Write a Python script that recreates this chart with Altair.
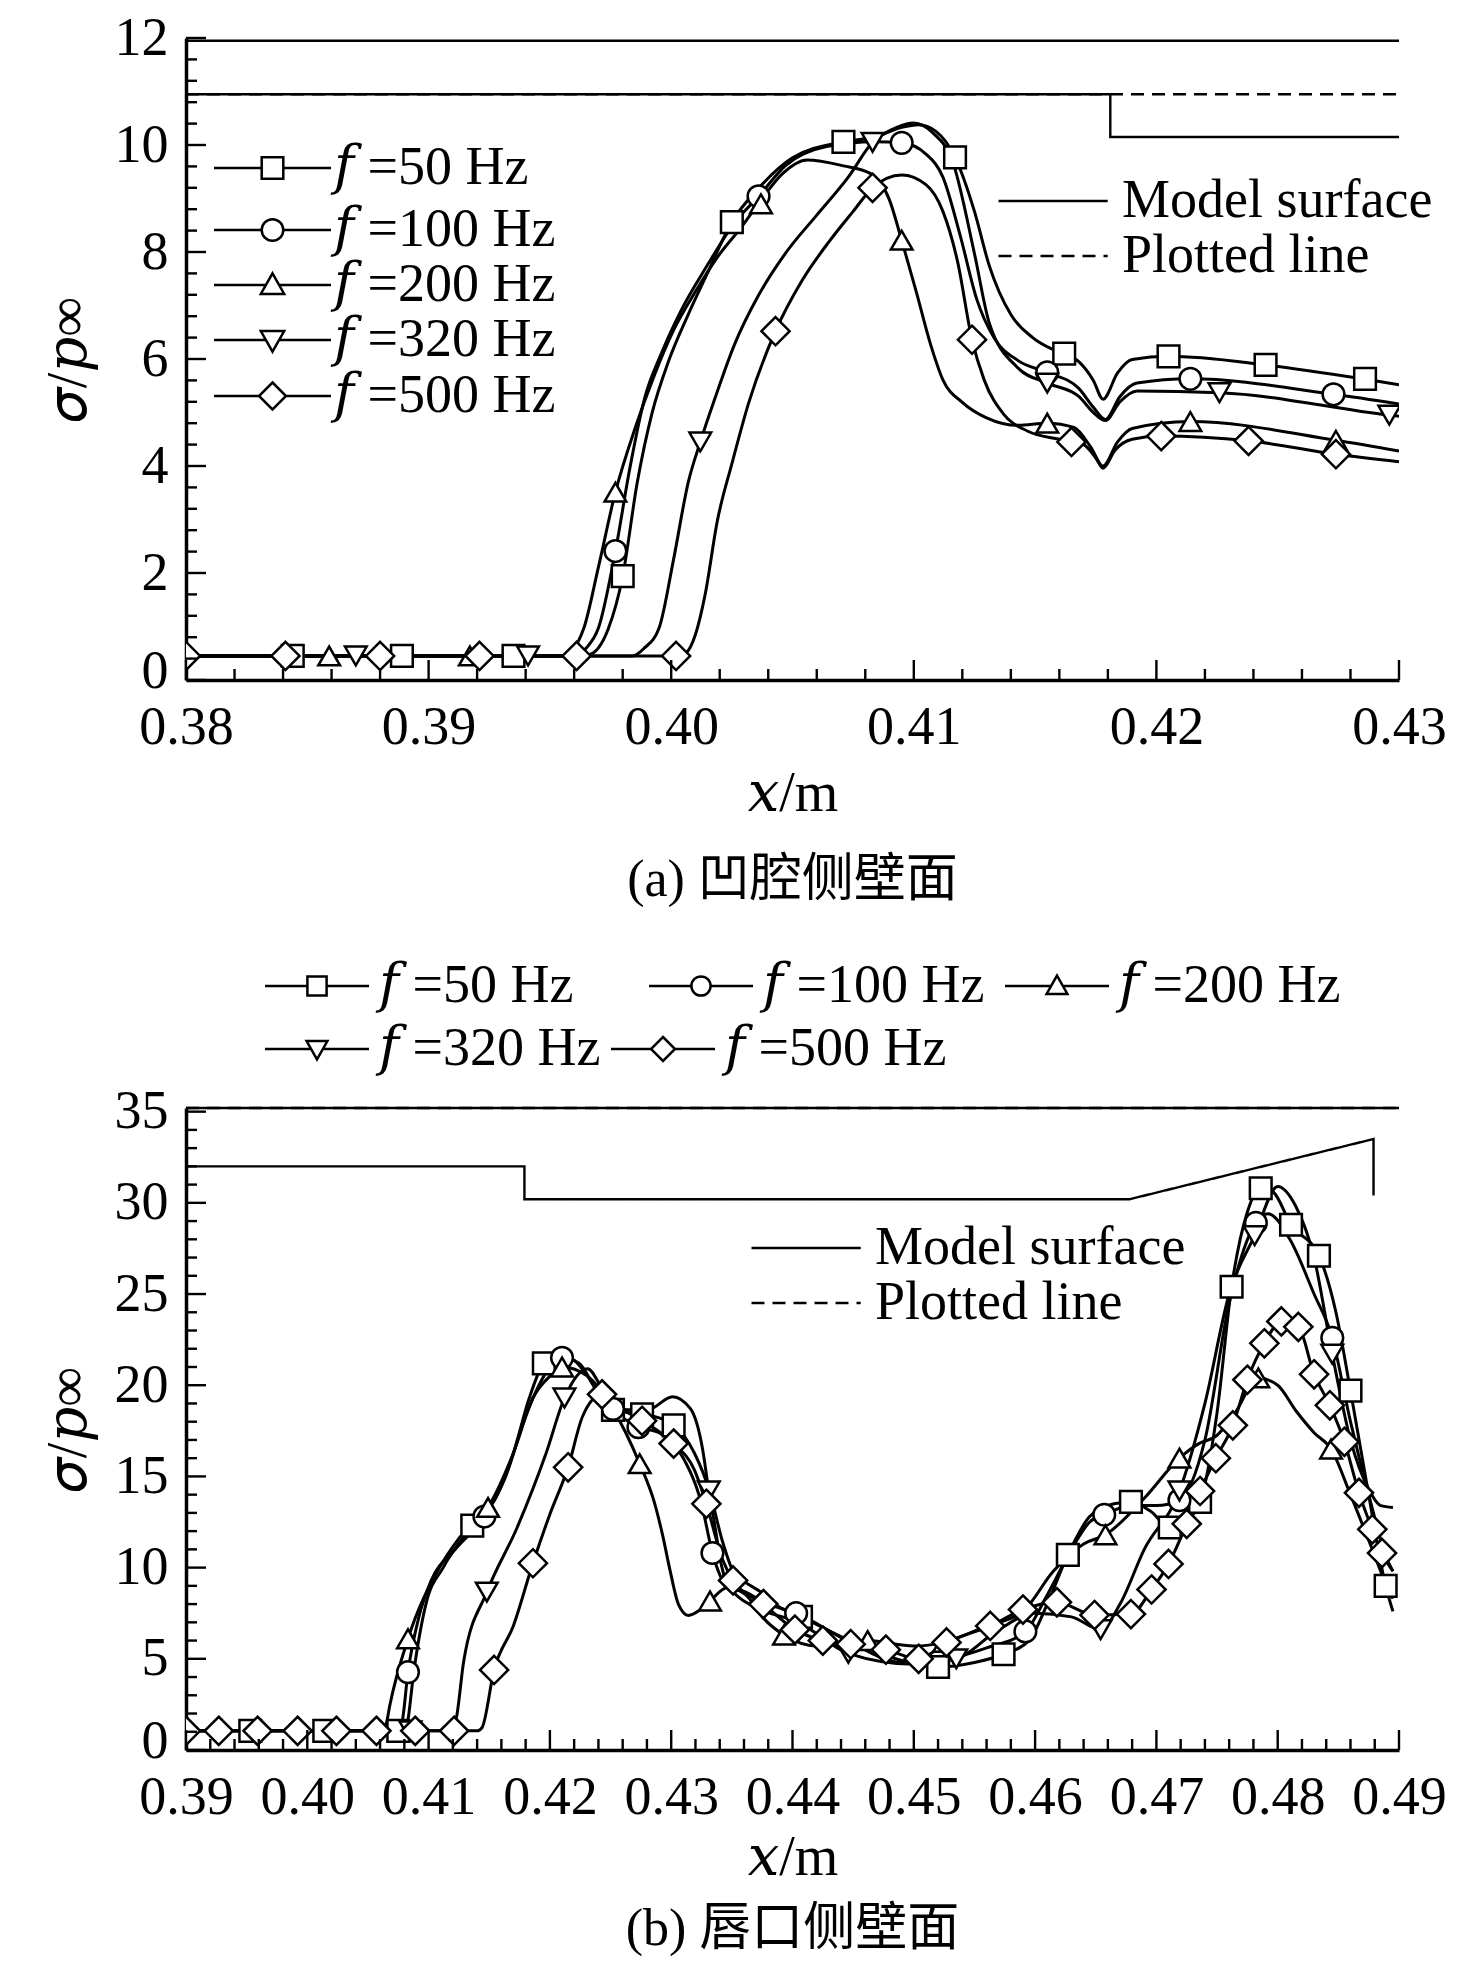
import altair as alt
import pandas as pd

FONT = "Liberation Serif, DejaVu Serif"
CJK = "Liberation Serif, Noto Sans CJK SC"

SER = ["𝑓 =50 Hz", "𝑓 =100 Hz", "𝑓 =200 Hz", "𝑓 =320 Hz", "𝑓 =500 Hz"]
SHAPES = ["square", "circle", "triangle-up", "triangle-down", "M0,-1.3L1.3,0L0,1.3L-1.3,0Z"]
# legend symbols: a line with the marker of each series in its middle
LEG_PATHS = [
    "M-1,0H4.3M6.7,0H12M4.3,-1.2H6.7V1.2H4.3Z",
    "M-1,0H4.3M6.7,0H12M6.7,0A1.2,1.2,0,1,1,4.3,0A1.2,1.2,0,1,1,6.7,0Z",
    "M-1,0H4.77M6.23,0H12M5.5,-1.3L6.8,1.0H4.2Z",
    "M-1,0H4.77M6.23,0H12M5.5,1.3L6.8,-1.0H4.2Z",
    "M-1,0H4.0M7.0,0H12M5.5,-1.5L7.0,0L5.5,1.5L4.0,0Z",
]
KINDS = ["Model surface", "Plotted line"]

# ---------------- panel (a) curves ----------------
a50_x = [0.380, 0.3962, 0.3966, 0.3970, 0.3974, 0.3980, 0.3986, 0.3992, 0.3999, 0.4007, 0.4015, 0.4025, 0.4036, 0.4050, 0.4071, 0.4084, 0.4095, 0.4102, 0.4109, 0.4117, 0.4125, 0.4131, 0.4140, 0.4149, 0.4160, 0.4168, 0.4174, 0.4178, 0.4184, 0.4190, 0.4205, 0.4245, 0.4285, 0.4300]
a50_y = [0.45, 0.45, 0.47, 0.6, 0.95, 1.94, 3.69, 4.97, 5.97, 6.83, 7.61, 8.56, 9.19, 9.76, 10.06, 10.15, 10.33, 10.38, 10.26, 9.77, 8.76, 7.76, 6.83, 6.40, 6.12, 5.95, 5.6, 5.25, 5.74, 5.99, 6.05, 5.89, 5.63, 5.52]
a100_x = [0.380, 0.3957, 0.3961, 0.3965, 0.3970, 0.3977, 0.3983, 0.3989, 0.3996, 0.4004, 0.4015, 0.4026, 0.4036, 0.4047, 0.4064, 0.4084, 0.4095, 0.4105, 0.4112, 0.4119, 0.4126, 0.4133, 0.4143, 0.4155, 0.4168, 0.4174, 0.4179, 0.4185, 0.4192, 0.4214, 0.4273, 0.4300]
a100_y = [0.45, 0.45, 0.47, 0.6, 0.97, 2.41, 3.97, 5.26, 6.11, 6.9, 7.76, 8.54, 9.04, 9.61, 9.97, 10.06, 10.04, 9.83, 9.4, 8.33, 7.11, 6.4, 5.97, 5.75, 5.45, 5.1, 4.87, 5.3, 5.55, 5.63, 5.34, 5.16]
a200_x = [0.380, 0.3954, 0.3959, 0.3964, 0.3970, 0.3977, 0.3985, 0.3993, 0.4001, 0.4010, 0.4019, 0.4029, 0.4037, 0.4046, 0.4056, 0.4071, 0.4082, 0.4090, 0.4095, 0.4101, 0.4107, 0.4112, 0.4120, 0.4130, 0.4143, 0.4155, 0.4166, 0.4173, 0.4178, 0.4184, 0.4190, 0.4214, 0.4274, 0.4300]
a200_y = [0.45, 0.45, 0.55, 0.97, 2.11, 3.51, 4.69, 5.69, 6.54, 7.26, 7.9, 8.47, 8.97, 9.47, 9.72, 9.61, 9.47, 8.97, 8.22, 7.26, 6.26, 5.61, 5.19, 4.9, 4.76, 4.8, 4.72, 4.35, 4.0, 4.45, 4.7, 4.83, 4.48, 4.28]
a320_x = [0.380, 0.3984, 0.3989, 0.3995, 0.4001, 0.4007, 0.4012, 0.4018, 0.4026, 0.4036, 0.4047, 0.4060, 0.4073, 0.4083, 0.4093, 0.4100, 0.4108, 0.4116, 0.4125, 0.4131, 0.4143, 0.4155, 0.4168, 0.4174, 0.4179, 0.4185, 0.4192, 0.4226, 0.4296, 0.4300]
a320_y = [0.45, 0.45, 0.6, 0.97, 2.26, 3.69, 4.45, 5.26, 6.26, 7.19, 7.97, 8.69, 9.4, 10.05, 10.33, 10.41, 10.22, 9.69, 7.97, 6.69, 5.83, 5.55, 5.3, 5.0, 4.85, 5.2, 5.4, 5.37, 4.95, 4.93]
a500_x = [0.380, 0.4003, 0.4006, 0.4010, 0.4014, 0.4019, 0.4025, 0.4032, 0.4043, 0.4054, 0.4065, 0.4075, 0.4083, 0.4095, 0.4105, 0.4112, 0.4118, 0.4124, 0.4129, 0.4137, 0.4147, 0.4160, 0.4170, 0.4175, 0.4178, 0.4183, 0.4190, 0.4202, 0.4238, 0.4274, 0.4300]
a500_y = [0.45, 0.45, 0.5, 0.85, 1.6, 2.97, 4.04, 5.19, 6.52, 7.47, 8.19, 8.76, 9.2, 9.44, 9.26, 8.76, 7.83, 6.36, 5.61, 4.97, 4.65, 4.5, 4.4, 4.15, 3.96, 4.3, 4.5, 4.56, 4.47, 4.22, 4.08]

# panel (a) markers
am50_x = [0.3844, 0.3889, 0.3935, 0.3980, 0.4025, 0.4071, 0.4117, 0.4162, 0.4205, 0.4245, 0.4286]
am50_y = [0.45, 0.45, 0.45, 1.94, 8.56, 10.06, 9.77, 6.10, 6.05, 5.89, 5.63]
am100_x = [0.3977, 0.4036, 0.4095, 0.4155, 0.4214, 0.4273]
am100_y = [2.41, 9.04, 10.04, 5.75, 5.63, 5.34]
am200_x = [0.3859, 0.3917, 0.3977, 0.4037, 0.4095, 0.4155, 0.4214, 0.4274]
am200_y = [0.45, 0.45, 3.51, 8.9, 8.22, 4.8, 4.83, 4.48]
am320_x = [0.3870, 0.3941, 0.4012, 0.4083, 0.4155, 0.4226, 0.4296]
am320_y = [0.45, 0.45, 4.45, 10.05, 5.55, 5.37, 4.95]
am500_x = [0.3800, 0.3841, 0.3880, 0.3921, 0.3961, 0.4002, 0.4043, 0.4083, 0.4124, 0.4165, 0.4202, 0.4238, 0.4274]
am500_y = [0.45, 0.45, 0.45, 0.45, 0.45, 0.45, 6.52, 9.2, 6.36, 4.45, 4.56, 4.47, 4.22]

# panel (a) model surface / plotted line
as_seg = ["s1", "s1", "s2", "s2", "s2", "s2", "p1", "p1"]
as_kind = ["Model surface", "Model surface", "Model surface", "Model surface", "Model surface", "Model surface", "Plotted line", "Plotted line"]
as_x = [0.380, 0.430, 0.380, 0.4181, 0.4181, 0.430, 0.380, 0.430]
as_y = [11.95, 11.95, 10.95, 10.95, 10.15, 10.15, 10.95, 10.95]

# ---------------- panel (b) curves ----------------
b50_x = [0.390, 0.4080, 0.4082, 0.4088, 0.4098, 0.4112, 0.4136, 0.4156, 0.4170, 0.4183, 0.4195, 0.4207, 0.4217, 0.4231, 0.4249, 0.4264, 0.4278, 0.4302, 0.4319, 0.4332, 0.4342, 0.4351, 0.4359, 0.4373, 0.4390, 0.4407, 0.4450, 0.4485, 0.4520, 0.4550, 0.4574, 0.4595, 0.4610, 0.4627, 0.4645, 0.4665, 0.4679, 0.4695, 0.4711, 0.4725, 0.4736, 0.4750, 0.4762, 0.4775, 0.4786, 0.4796, 0.4811, 0.4834, 0.4848, 0.4860, 0.4875, 0.4889, 0.4895]
b50_y = [1.05, 1.05, 1.3, 4.4, 8.05, 10.0, 12.3, 13.9, 16.3, 19.3, 21.2, 21.6, 21.5, 20.5, 18.7, 18.5, 18.4, 17.8, 16.3, 14.1, 11.5, 9.8, 9.3, 8.7, 7.8, 7.3, 5.9, 5.0, 4.55, 4.8, 5.25, 6.0, 8.0, 10.7, 12.8, 13.5, 13.6, 13.1, 12.2, 12.6, 13.6, 18.5, 25.4, 29.5, 30.8, 30.6, 28.8, 27.1, 24.0, 19.7, 14.0, 9.0, 7.6]
b100_x = [0.390, 0.4074, 0.4078, 0.4083, 0.4092, 0.4102, 0.4122, 0.4146, 0.4163, 0.4180, 0.4197, 0.4210, 0.4224, 0.4237, 0.4252, 0.4273, 0.4290, 0.4310, 0.4325, 0.4334, 0.4346, 0.4360, 0.4380, 0.4403, 0.4445, 0.4490, 0.4520, 0.4560, 0.4592, 0.4610, 0.4630, 0.4645, 0.4657, 0.4680, 0.4700, 0.4719, 0.4740, 0.4760, 0.4782, 0.4792, 0.4810, 0.4830, 0.4845, 0.4860, 0.4875, 0.4890, 0.4895]
b100_y = [1.05, 1.05, 1.5, 4.27, 7.3, 9.27, 11.0, 12.8, 14.9, 18.3, 20.7, 21.5, 21.2, 19.9, 18.7, 17.7, 17.4, 16.0, 13.5, 10.8, 9.0, 8.7, 8.0, 7.5, 6.0, 4.8, 4.9, 5.6, 6.5, 8.5, 11.0, 12.5, 12.9, 13.4, 13.4, 13.7, 17.0, 24.5, 28.9, 29.4, 28.0, 25.0, 22.6, 18.0, 14.0, 10.5, 9.8]
b200_x = [0.390, 0.4062, 0.4065, 0.4068, 0.4083, 0.4109, 0.4125, 0.4149, 0.4170, 0.4186, 0.4200, 0.4210, 0.4231, 0.4251, 0.4274, 0.4286, 0.4293, 0.4299, 0.4306, 0.4314, 0.4324, 0.4332, 0.4346, 0.4361, 0.4376, 0.4393, 0.4420, 0.4462, 0.4500, 0.4525, 0.4560, 0.4590, 0.4615, 0.4640, 0.4658, 0.4690, 0.4719, 0.4735, 0.4749, 0.4765, 0.4784, 0.4800, 0.4815, 0.4830, 0.4844, 0.4860, 0.4875, 0.4890, 0.4895]
b200_y = [1.05, 1.05, 1.4, 2.44, 6.1, 10.0, 11.6, 13.3, 16.3, 19.3, 20.5, 21.0, 20.5, 18.8, 15.7, 13.6, 11.75, 9.86, 7.98, 7.38, 7.7, 8.17, 8.9, 8.54, 7.23, 6.3, 5.7, 6.0, 5.7, 5.9, 6.8, 7.6, 9.8, 11.3, 11.8, 13.8, 16.0, 16.8, 17.2, 18.5, 20.4, 20.0, 18.6, 17.4, 16.5, 14.0, 11.5, 9.0, 8.3]
b320_x = [0.390, 0.4119, 0.4123, 0.4129, 0.4148, 0.4173, 0.4197, 0.4212, 0.4231, 0.4244, 0.4264, 0.4281, 0.4301, 0.4316, 0.4326, 0.4331, 0.4336, 0.4341, 0.4346, 0.4353, 0.4370, 0.4405, 0.4446, 0.4500, 0.4535, 0.4570, 0.4600, 0.4630, 0.4654, 0.4670, 0.4690, 0.4719, 0.4740, 0.4760, 0.4781, 0.4800, 0.4815, 0.4830, 0.4845, 0.4860, 0.4875, 0.4885, 0.4895]
b320_y = [1.05, 1.05, 1.8, 4.9, 8.66, 12.2, 16.3, 19.3, 20.9, 19.75, 18.66, 18.66, 19.37, 18.7, 16.45, 14.2, 12.3, 10.24, 9.11, 8.54, 7.8, 7.0, 5.3, 4.7, 5.0, 6.6, 7.5, 7.3, 6.6, 8.0, 11.0, 14.2, 19.0, 25.0, 28.2, 30.9, 29.8, 27.0, 21.7, 17.0, 14.3, 13.4, 13.3]
b500_x = [0.390, 0.4140, 0.4144, 0.4154, 0.4170, 0.4186, 0.4200, 0.4215, 0.4227, 0.4243, 0.4264, 0.4276, 0.4302, 0.4319, 0.4329, 0.4342, 0.4351, 0.4376, 0.4402, 0.4425, 0.4448, 0.4477, 0.4504, 0.4527, 0.4563, 0.4590, 0.4618, 0.4649, 0.4679, 0.4696, 0.4710, 0.4725, 0.4736, 0.4749, 0.4763, 0.4775, 0.4789, 0.4803, 0.4817, 0.4830, 0.4843, 0.4855, 0.4867, 0.4878, 0.4886, 0.4895]
b500_y = [1.05, 1.05, 1.22, 4.39, 6.83, 10.24, 12.93, 15.5, 18.3, 19.5, 18.5, 18.05, 16.8, 15.37, 13.5, 10.5, 9.3, 8.0, 6.6, 6.0, 5.8, 5.5, 5.0, 5.9, 6.8, 7.7, 8.1, 7.4, 7.45, 8.8, 10.2, 12.4, 14.2, 16.0, 17.8, 20.3, 22.3, 23.5, 23.2, 20.6, 18.9, 16.9, 14.1, 12.1, 10.8, 9.8]

# panel (b) markers
bm50_x = [0.3953, 0.4014, 0.4075, 0.4136, 0.4195, 0.4252, 0.4276, 0.4302, 0.4407, 0.4520, 0.4574, 0.4627, 0.4679, 0.4711, 0.4736, 0.4762, 0.4786, 0.4811, 0.4834, 0.4860, 0.4889]
bm50_y = [1.05, 1.05, 1.05, 12.3, 21.2, 18.65, 18.4, 17.8, 7.3, 4.55, 5.25, 10.7, 13.6, 12.2, 13.6, 25.4, 30.8, 28.8, 27.1, 19.7, 9.0]
bm100_x = [0.4083, 0.4146, 0.4210, 0.4252, 0.4273, 0.4334, 0.4403, 0.4592, 0.4657, 0.4719, 0.4782, 0.4845]
bm100_y = [4.27, 12.8, 21.5, 18.7, 17.7, 10.8, 7.5, 6.5, 12.9, 13.7, 28.9, 22.6]
bm200_x = [0.4083, 0.4149, 0.4210, 0.4274, 0.4332, 0.4393, 0.4462, 0.4525, 0.4658, 0.4719, 0.4784, 0.4844]
bm200_y = [6.1, 13.3, 21.0, 15.7, 8.17, 6.3, 6.0, 5.9, 11.8, 16.0, 20.4, 16.5]
bm320_x = [0.4085, 0.4148, 0.4212, 0.4331, 0.4446, 0.4535, 0.4654, 0.4719, 0.4781, 0.4845]
bm320_y = [1.05, 8.66, 19.3, 14.2, 5.3, 5.0, 6.6, 14.2, 28.2, 21.7]
bm500_x = [0.3900, 0.3927, 0.3959, 0.3992, 0.4024, 0.4057, 0.4089, 0.4121, 0.4154, 0.4186, 0.4215, 0.4243, 0.4276, 0.4302, 0.4329, 0.4351, 0.4376, 0.4402, 0.4425, 0.4448, 0.4477, 0.4504, 0.4527, 0.4563, 0.4590, 0.4618, 0.4649, 0.4679, 0.4696, 0.4710, 0.4725, 0.4736, 0.4749, 0.4763, 0.4775, 0.4789, 0.4803, 0.4817, 0.4830, 0.4843, 0.4855, 0.4867, 0.4878, 0.4886]
bm500_y = [1.05, 1.05, 1.05, 1.05, 1.05, 1.05, 1.05, 1.05, 4.39, 10.24, 15.5, 19.5, 18.05, 16.8, 13.5, 9.3, 8.0, 6.6, 6.0, 5.8, 5.5, 5.0, 5.9, 6.8, 7.7, 8.1, 7.4, 7.45, 8.8, 10.2, 12.4, 14.2, 16.0, 17.8, 20.3, 22.3, 23.5, 23.2, 20.6, 18.9, 16.9, 14.1, 12.1, 10.8]

# panel (b) model surface / plotted line
bs_seg = ["s1", "s1", "s2", "s2", "s2", "s2", "s2", "s2", "s2", "p1", "p1"]
bs_kind = ["Model surface"] * 9 + ["Plotted line"] * 2
bs_x = [0.390, 0.490, 0.390, 0.4179, 0.4179, 0.4678, 0.4879, 0.4879, 0.4879, 0.390, 0.490]
bs_y = [35.2, 35.2, 32.0, 32.0, 30.2, 30.2, 33.5, 33.5, 30.4, 35.2, 35.2]

# tick values
a_xmaj = [0.38, 0.39, 0.40, 0.41, 0.42, 0.43]
a_xmin = [0.382, 0.384, 0.386, 0.388, 0.392, 0.394, 0.396, 0.398, 0.402, 0.404, 0.406, 0.408,
          0.412, 0.414, 0.416, 0.418, 0.422, 0.424, 0.426, 0.428]
a_ymaj = [0, 2, 4, 6, 8, 10, 12]
a_ymin = [0.4, 0.8, 1.2, 1.6, 2.4, 2.8, 3.2, 3.6, 4.4, 4.8, 5.2, 5.6, 6.4, 6.8, 7.2, 7.6,
          8.4, 8.8, 9.2, 9.6, 10.4, 10.8, 11.2, 11.6]
b_xmaj = [0.39, 0.40, 0.41, 0.42, 0.43, 0.44, 0.45, 0.46, 0.47, 0.48, 0.49]
b_xmin = [round(0.39 + 0.002 * i, 3) for i in range(51) if i % 5 != 0]
b_ymaj = [0, 5, 10, 15, 20, 25, 30, 35]
b_ymin = [i for i in range(1, 35) if i % 5 != 0]

# legend entry placement (pixels from the plot's top-left corner)
A_LEG_POS = [(10, 103), (10, 165), (10, 220), (10, 275), (10, 331)]
B_LEG_POS = [(60, -149), (444, -149), (800, -149), (60, -86), (406, -86)]


def curves_df(xs, ys):
    rows = []
    for name, x, y in zip(SER, xs, ys):
        assert len(x) == len(y), name
        for i, (a, b) in enumerate(zip(x, y)):
            rows.append({"series": name, "x": a, "y": b, "ord": i})
    return pd.DataFrame(rows)


def series_legend(i, pos, size, offset):
    return alt.Legend(title=None, orient="none", legendX=pos[0], legendY=pos[1], padding=0,
                      symbolType=LEG_PATHS[i], symbolSize=size, symbolStrokeWidth=2.5,
                      symbolStrokeColor="black", symbolFillColor="white", symbolOpacity=1,
                      labelFont=FONT, labelFontSize=54, labelColor="black",
                      labelOffset=offset, labelLimit=0)


def panel(lx, ly, mx, my, sseg, skind, sx, sy, xdom, ydom, xmaj, xmin, ymaj, ymin,
          W, H, ytitle, caption, cap_offset, leg_pos, leg_size, leg_offset, leg_surf,
          xlab_pad, xtitle_pad):
    xs = alt.Scale(domain=xdom, nice=False, zero=False)
    ys = alt.Scale(domain=ydom, nice=False, zero=False)
    xaxis = alt.Axis(values=xmaj, format=".2f", title="𝑥/m", labelFlush=False,
                     labelOverlap=False, labelPadding=xlab_pad, titlePadding=xtitle_pad)
    yaxis = alt.Axis(values=ymaj, format="d", title=ytitle, labelPadding=18,
                     titlePadding=17, labelOverlap=False,
                     labelOffset={"condition": {"test": "datum.value === 0", "value": -9},
                                  "value": 0})
    X = alt.X("x:Q", scale=xs, axis=xaxis)
    Y = alt.Y("y:Q", scale=ys, axis=yaxis)

    ldf = curves_df(lx, ly)
    mdf = curves_df(mx, my)
    sdf = pd.DataFrame({"seg": sseg, "kind": skind, "x": sx, "y": sy,
                        "ord": list(range(len(sx)))})

    surf = alt.Chart(sdf).mark_line(color="black", strokeWidth=2.4, clip=False).encode(
        x=X, y=Y, detail="seg:N", order="ord:Q",
        strokeDash=alt.StrokeDash("kind:N", scale=alt.Scale(domain=KINDS, range=[[1, 0], [13, 8]]),
                                  legend=leg_surf))
    line_layers = []
    for i, name in enumerate(SER):
        line_layers.append(
            alt.Chart(ldf[ldf["series"] == name]).mark_line(
                strokeWidth=3, interpolate="monotone", clip=True).encode(
                x=X, y=Y, order="ord:Q",
                color=alt.Color("series:N", scale=alt.Scale(domain=[name], range=["black"]),
                                legend=series_legend(i, leg_pos[i], leg_size, leg_offset))))
    pts = alt.Chart(mdf).mark_point(filled=True, fill="white", stroke="black", strokeWidth=2.5,
                                    size=470, opacity=1, clip=True).encode(
        x=X, y=Y,
        shape=alt.Shape("series:N", scale=alt.Scale(domain=SER, range=SHAPES), legend=None))
    xt1 = alt.Chart(pd.DataFrame({"x": xmaj})).mark_rule(color="black", strokeWidth=2.4).encode(
        x=X, y=alt.value(H), y2=alt.value(H - 20))
    xt2 = alt.Chart(pd.DataFrame({"x": xmin})).mark_rule(color="black", strokeWidth=2.4).encode(
        x=X, y=alt.value(H), y2=alt.value(H - 11))
    yt1 = alt.Chart(pd.DataFrame({"y": ymaj})).mark_rule(color="black", strokeWidth=2.4).encode(
        y=Y, x=alt.value(0), x2=alt.value(20))
    yt2 = alt.Chart(pd.DataFrame({"y": ymin})).mark_rule(color="black", strokeWidth=2.4).encode(
        y=Y, x=alt.value(0), x2=alt.value(11))

    return alt.layer(surf, *line_layers, pts, xt1, xt2, yt1, yt2).resolve_scale(
        color="independent").resolve_legend(color="independent").properties(
        width=W, height=H,
        title=alt.TitleParams(caption, orient="bottom", anchor="middle", frame="group",
                              font=CJK, fontSize=52, fontWeight="normal", color="black",
                              offset=cap_offset))


def surf_legend(lx, ly):
    return alt.Legend(title=None, orient="none", legendX=lx, legendY=ly, padding=0,
                      symbolType="M-1,0H9.4", symbolSize=441, symbolStrokeWidth=2.4,
                      symbolStrokeColor="black", labelFont=FONT, labelFontSize=54,
                      labelColor="black", labelOffset=86, rowPadding=1, labelLimit=0)


top = panel([a50_x, a100_x, a200_x, a320_x, a500_x], [a50_y, a100_y, a200_y, a320_y, a500_y],
            [am50_x, am100_x, am200_x, am320_x, am500_x], [am50_y, am100_y, am200_y, am320_y, am500_y],
            as_seg, as_kind, as_x, as_y, [0.38, 0.43], [0, 12], a_xmaj, a_xmin, a_ymaj, a_ymin,
            1213, 642, "𝜎/𝑝∞", "(a) 凹腔侧壁面", 34, A_LEG_POS, 324, 84, surf_legend(796, 136),
            20, 12)
bottom = panel([b50_x, b100_x, b200_x, b320_x, b500_x], [b50_y, b100_y, b200_y, b320_y, b500_y],
               [bm50_x, bm100_x, bm200_x, bm320_x, bm500_x], [bm50_y, bm100_y, bm200_y, bm320_y, bm500_y],
               bs_seg, bs_kind, bs_x, bs_y, [0.39, 0.49], [0, 35.2], b_xmaj, b_xmin, b_ymaj, b_ymin,
               1213, 642, "𝜎/𝑝∞", "(b) 唇口侧壁面", 19, B_LEG_POS, 256, 79, surf_legend(549, 113),
               20, 6)

chart = alt.vconcat(top, bottom, spacing=53).resolve_scale(
    color="independent", strokeDash="independent").resolve_legend(
    color="independent", strokeDash="independent").properties(
    padding={"left": 32, "top": 3, "right": 10, "bottom": 5},
    background="white",
).configure_view(stroke=None).configure_axis(
    domainColor="black", domainWidth=3.5, ticks=False, grid=False,
    labelFont=FONT, labelFontSize=54, labelColor="black",
    titleFont=FONT, titleFontSize=56, titleColor="black", titleFontWeight="normal",
)

chart.save("out.html", embed_options={"renderer": "svg", "actions": False})
